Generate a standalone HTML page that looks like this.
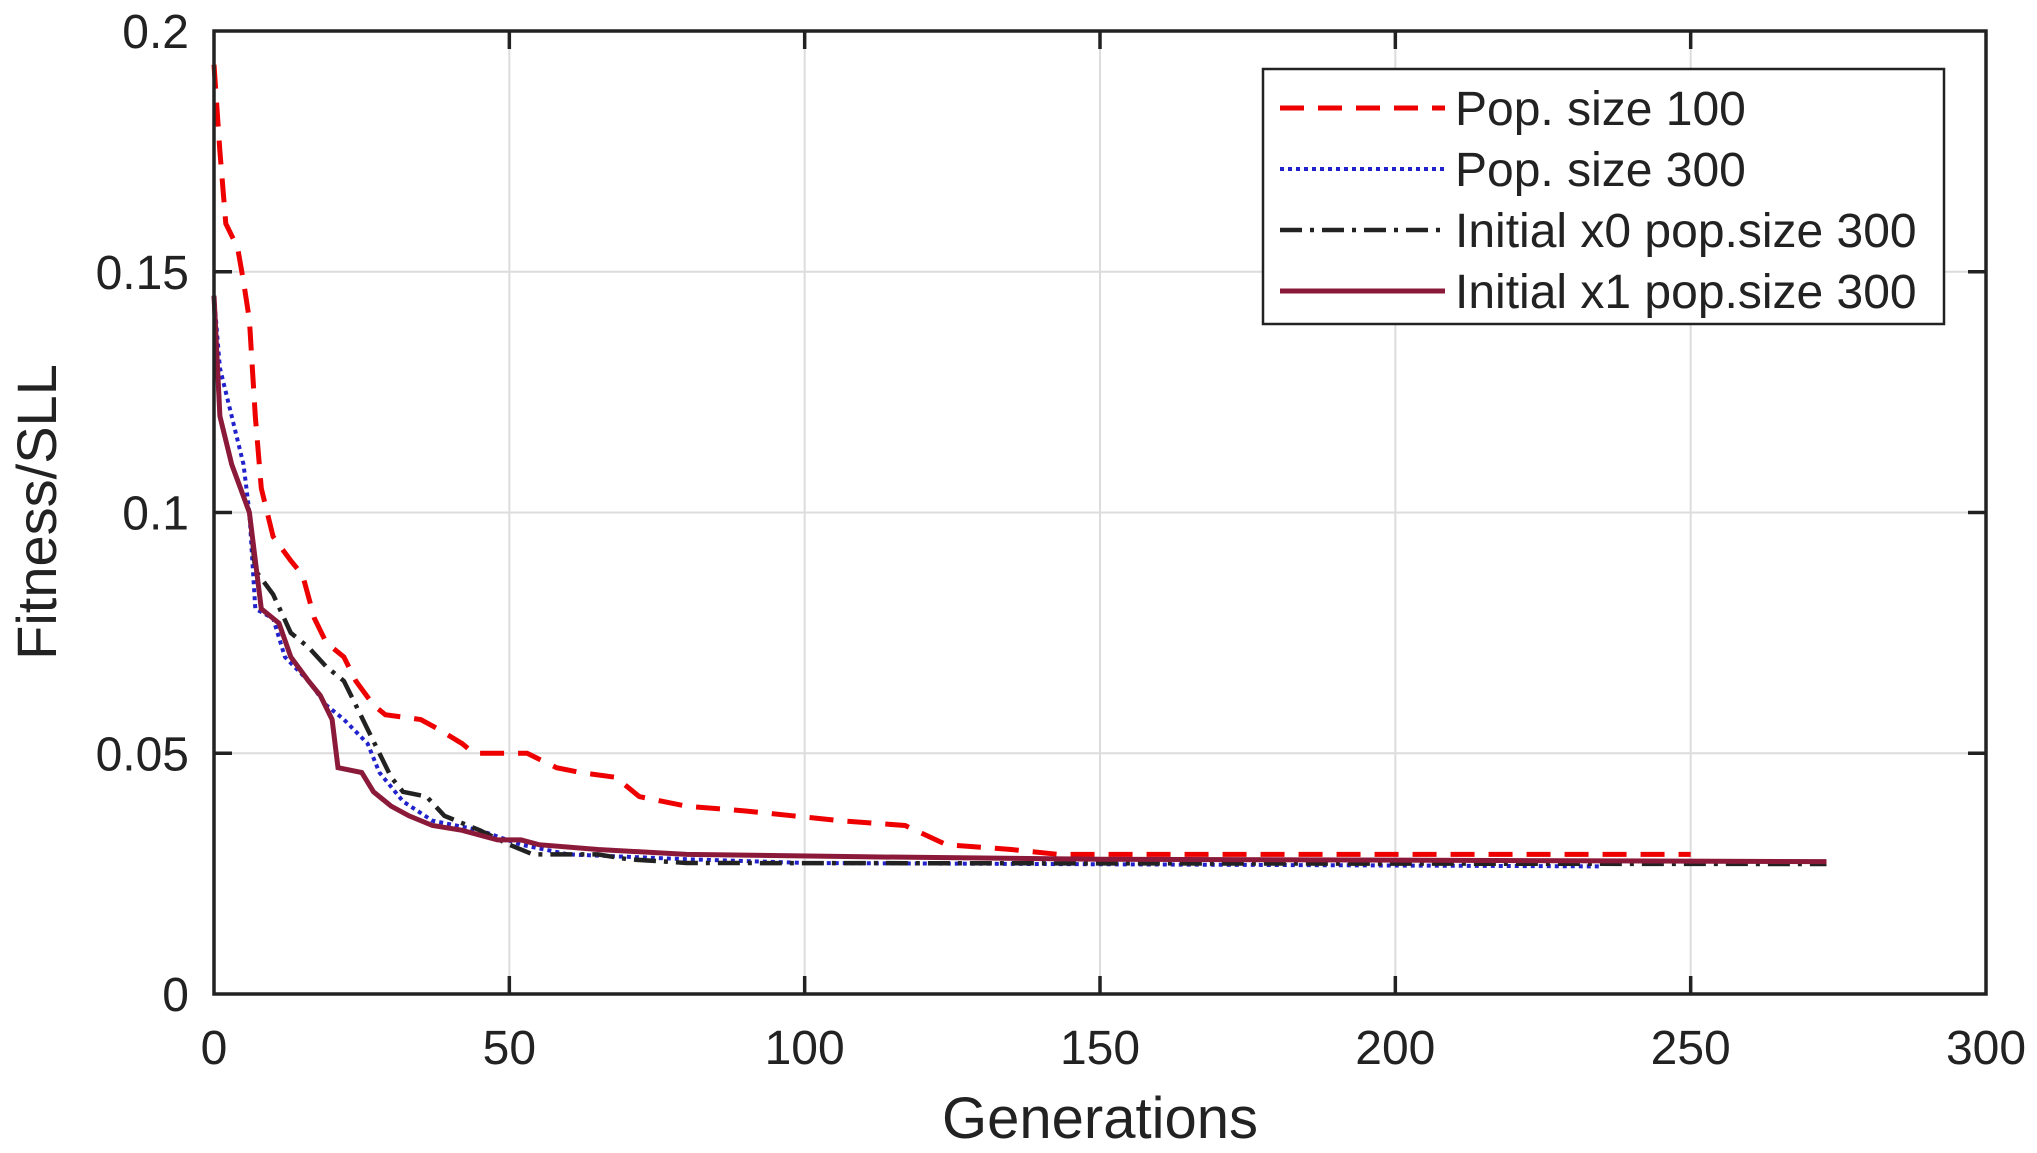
<!DOCTYPE html>
<html><head><meta charset="utf-8"><style>
body{margin:0;background:#fff}
svg{display:block}
text{font-family:"Liberation Sans",Arial,sans-serif;fill:#222}
</style></head><body>
<svg id="s" width="2037" height="1153" viewBox="0 0 2037 1153" xmlns="http://www.w3.org/2000/svg">
<g id="grid" stroke="#dcdcdc" stroke-width="2"></g>
<g id="series" fill="none"></g>
<rect x="214" y="31" width="1772" height="963" fill="none" stroke="#222" stroke-width="3.5"/>
<g id="ticks" stroke="#222" stroke-width="3.5"></g>
<g id="labels" font-size="48"></g>
<text x="1100" y="1138" font-size="58" text-anchor="middle">Generations</text>
<text transform="translate(56,512) rotate(-90)" font-size="56" text-anchor="middle">Fitness/SLL</text>
<rect x="1263" y="69" width="681" height="255" fill="#fff" stroke="#222" stroke-width="2.5"/>
<g font-size="48">
<line x1="1280" y1="108" x2="1445" y2="108" stroke="#e00" stroke-width="5" stroke-dasharray="24,14"/>
<text x="1455" y="125">Pop. size 100</text>
<line x1="1280" y1="169" x2="1445" y2="169" stroke="#22c" stroke-width="4" stroke-dasharray="4,4"/>
<text x="1455" y="186">Pop. size 300</text>
<line x1="1280" y1="230" x2="1445" y2="230" stroke="#222" stroke-width="4.5" stroke-dasharray="22,8,4,8"/>
<text x="1455" y="247">Initial x0 pop.size 300</text>
<line x1="1280" y1="291" x2="1445" y2="291" stroke="#8b1a3a" stroke-width="5"/>
<text x="1455" y="308">Initial x1 pop.size 300</text>
</g>
</svg>
<script>
var NS="http://www.w3.org/2000/svg";
function X(g){return 214+g*5.9067}
function Y(v){return 994-v*4815}
function el(p,t,a,txt){var e=document.createElementNS(NS,t);for(var k in a)e.setAttribute(k,a[k]);if(txt!==undefined)e.textContent=txt;document.getElementById(p).appendChild(e);return e}
for(var g=50;g<300;g+=50){el('grid','line',{x1:X(g),y1:31,x2:X(g),y2:994});}
for(var v=0.05;v<0.2;v+=0.05){el('grid','line',{x1:214,y1:Y(v),x2:1986,y2:Y(v)});}
for(var g=50;g<300;g+=50){el('ticks','line',{x1:X(g),y1:994,x2:X(g),y2:976});el('ticks','line',{x1:X(g),y1:31,x2:X(g),y2:49});}
for(var i=1;i<4;i++){var y=Y(i*0.05);el('ticks','line',{x1:214,y1:y,x2:232,y2:y});el('ticks','line',{x1:1968,y1:y,x2:1986,y2:y});}
var xl=[0,50,100,150,200,250,300];xl.forEach(function(g){el('labels','text',{x:X(g),y:1064,'text-anchor':'middle'},String(g))});
var yl=['0','0.05','0.1','0.15','0.2'];yl.forEach(function(t,i){el('labels','text',{x:189,y:Y(i*0.05)+17,'text-anchor':'end'},t)});
function path(pts){return pts.map(function(p,i){return (i?'L':'M')+X(p[0]).toFixed(1)+','+Y(p[1]).toFixed(1)}).join('')}
var red=[[0,0.193],[1,0.175],[2,0.16],[4,0.155],[5,0.148],[6,0.14],[7,0.12],[8,0.105],[10,0.095],[13,0.09],[15,0.087],[17,0.078],[19,0.073],[22,0.07],[24,0.065],[27,0.06],[29,0.058],[35,0.057],[38,0.055],[42,0.052],[44,0.05],[53,0.05],[58,0.047],[62,0.046],[68,0.045],[72,0.041],[80,0.039],[90,0.038],[98,0.037],[106,0.036],[117,0.035],[124,0.031],[135,0.03],[143,0.029],[250,0.029]];
var blue=[[0,0.145],[1,0.13],[3,0.12],[5,0.11],[6,0.1],[7,0.08],[10,0.078],[12,0.07],[16,0.065],[19,0.06],[22,0.057],[26,0.052],[28,0.046],[32,0.04],[37,0.036],[45,0.034],[52,0.031],[60,0.029],[80,0.028],[100,0.0272],[235,0.0265]];
var blk=[[0,0.145],[1,0.12],[3,0.11],[6,0.1],[7,0.088],[10,0.083],[13,0.075],[16,0.072],[19,0.068],[22,0.065],[24,0.06],[26,0.055],[28,0.05],[30,0.045],[32,0.042],[36,0.041],[39,0.037],[45,0.034],[50,0.031],[54,0.029],[65,0.029],[70,0.028],[80,0.0272],[273,0.027]];
var mar=[[0,0.145],[1,0.12],[3,0.11],[6,0.1],[8,0.08],[11,0.077],[13,0.07],[16,0.065],[18,0.062],[20,0.057],[21,0.047],[25,0.046],[27,0.042],[30,0.039],[33,0.037],[37,0.035],[42,0.034],[48,0.032],[52,0.032],[55,0.031],[65,0.03],[80,0.029],[110,0.0285],[150,0.028],[273,0.0275]];
el('series','path',{d:path(red),stroke:'#e00','stroke-width':5,'stroke-dasharray':'24,14'});
el('series','path',{d:path(blue),stroke:'#22c','stroke-width':4,'stroke-dasharray':'4,4'});
el('series','path',{d:path(blk),stroke:'#222','stroke-width':4.5,'stroke-dasharray':'22,8,4,8'});
el('series','path',{d:path(mar),stroke:'#8b1a3a','stroke-width':5});
</script>
</body></html>
